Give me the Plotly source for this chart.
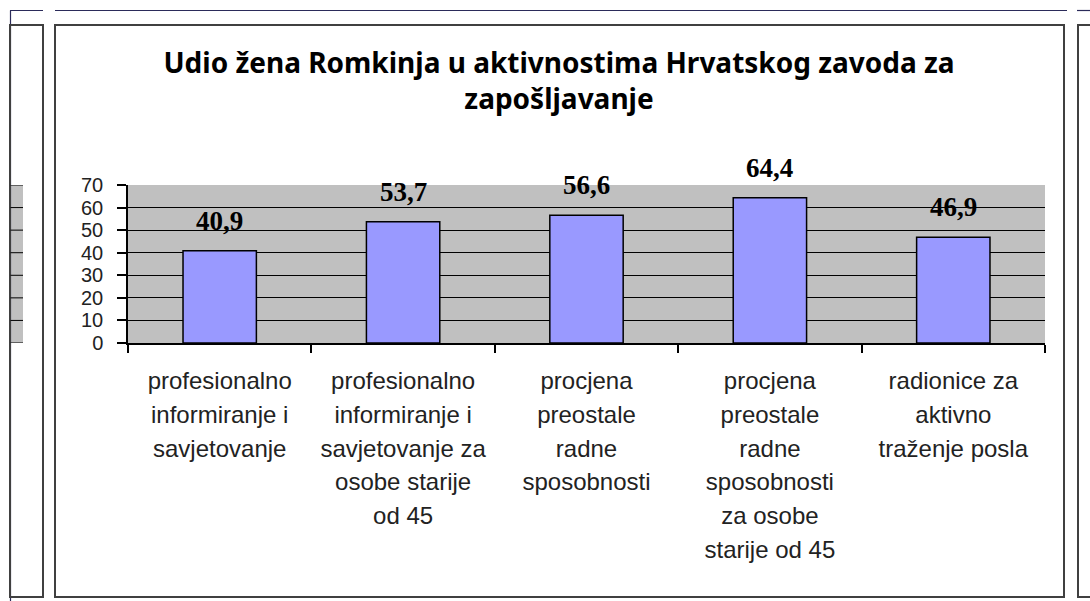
import plotly.graph_objects as go

categories = [
    "profesionalno<br>informiranje i<br>savjetovanje",
    "profesionalno<br>informiranje i<br>savjetovanje za<br>osobe starije<br>od 45",
    "procjena<br>preostale<br>radne<br>sposobnosti",
    "procjena<br>preostale<br>radne<br>sposobnosti<br>za osobe<br>starije od 45",
    "radionice za<br>aktivno<br>traženje posla",
]
values = [40.9, 53.7, 56.6, 64.4, 46.9]
y_ticks = [0, 10, 20, 30, 40, 50, 60, 70]
title_text = "Udio žena Romkinja u aktivnostima Hrvatskog zavoda za<br>zapošljavanje"

W, H = 1090, 601
L, R, T, B = 128, 1045, 185, 343  # plot area in pixels


def xp(px):
    return (px - L) / (R - L)


def yp(py):
    return (B - py) / (B - T)


fig = go.Figure()
fig.add_trace(go.Bar(
    x=categories, y=values,
    marker=dict(color="#9999FF", line=dict(color="#000000", width=1.5)),
    hoverinfo="skip",
))

for c, v in zip(categories, values):
    fig.add_annotation(
        x=c, y=v, xref="x", yref="y",
        text=f"{v:.1f}".replace(".", ","),
        showarrow=False, yanchor="middle", yshift=30,
        font=dict(family="Liberation Serif", size=27, color="#000000", weight="bold"),
    )

frame = "#404040"
navy = "#2b2b5a"
shapes = []
# outer navy lines
for x0, x1 in [(10, 43), (55, 1067), (1077, 1090)]:
    shapes.append(dict(type="line", xref="paper", yref="paper",
                       x0=xp(x0), x1=xp(x1), y0=yp(10.5), y1=yp(10.5),
                       line=dict(color=navy, width=1.2)))
shapes.append(dict(type="line", xref="paper", yref="paper",
                   x0=xp(10.5), x1=xp(10.5), y0=yp(10.5), y1=yp(601),
                   line=dict(color=navy, width=1.2)))
# left partial chart frame
shapes.append(dict(type="rect", xref="paper", yref="paper",
                   x0=xp(10), x1=xp(43), y0=yp(597), y1=yp(25),
                   line=dict(color=frame, width=2)))
# left partial plot area
shapes.append(dict(type="rect", xref="paper", yref="y",
                   x0=xp(10.5), x1=xp(23), y0=0, y1=70,
                   fillcolor="#C0C0C0", line=dict(width=0), layer="below"))
for t in y_ticks:
    shapes.append(dict(type="line", xref="paper", yref="y",
                       x0=xp(10.5), x1=xp(23), y0=t, y1=t,
                       line=dict(color="#000000", width=1)))
shapes.append(dict(type="line", xref="paper", yref="y",
                   x0=xp(22), x1=xp(22), y0=0, y1=-3,
                   line=dict(color="#000000", width=1)))
# main chart frame
shapes.append(dict(type="rect", xref="paper", yref="paper",
                   x0=xp(55), x1=xp(1064), y0=yp(597), y1=yp(25),
                   line=dict(color=frame, width=2)))
# right partial chart frame
shapes.append(dict(type="rect", xref="paper", yref="paper",
                   x0=xp(1078), x1=xp(1100), y0=yp(597), y1=yp(25),
                   line=dict(color=frame, width=2)))

fig.update_layout(
    width=W, height=H,
    margin=dict(l=L, r=W - R, t=T, b=H - B, pad=0),
    paper_bgcolor="#FFFFFF",
    plot_bgcolor="#C0C0C0",
    bargap=0.6,
    showlegend=False,
    shapes=shapes,
    title=dict(
        text=title_text,
        xref="container", x=559 / W, xanchor="center",
        yref="container", y=1 - 73 / H, yanchor="top",
        font=dict(family="Noto Sans", size=28, color="#000000", weight="bold"),
    ),
    xaxis=dict(
        type="category",
        tickvals=categories,
        ticktext=[f"<span style='font-size:24px'>{c}</span>" for c in categories],
        showline=True, linecolor="#000000", linewidth=1.5,
        ticks="outside", tickson="boundaries", ticklen=8, tickcolor="#000000", tickwidth=1.5,
        tickfont=dict(family="Liberation Sans", size=26, color="#222222"),
        ticklabelstandoff=13,
        showgrid=False, zeroline=False, fixedrange=True,
    ),
    yaxis=dict(
        range=[0, 70], tickvals=y_ticks, ticktext=[str(t) for t in y_ticks],
        showline=True, linecolor="#000000", linewidth=1.5,
        ticks="outside", ticklen=9, tickcolor="#000000", tickwidth=1.5,
        tickfont=dict(family="Liberation Sans", size=20, color="#222222"),
        ticklabelstandoff=10,
        showgrid=True, gridcolor="#000000", gridwidth=1,
        zeroline=False, fixedrange=True,
    ),
)

fig.write_html(
    "out.html",
    config={"displayModeBar": False},
    post_script="document.body.style.margin='0';document.body.style.overflow='hidden';",
)
